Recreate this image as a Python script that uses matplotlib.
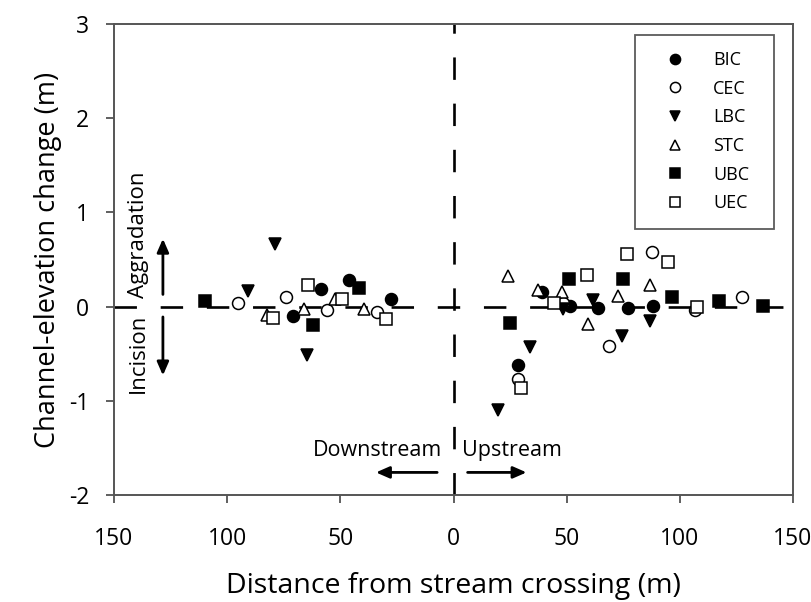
import matplotlib
matplotlib.use("Agg")
import matplotlib.pyplot as plt
from matplotlib.ticker import FuncFormatter

plt.rcParams['font.family'] = ['Open Sans', 'DejaVu Sans']
plt.rcParams['axes.unicode_minus'] = False

# Distance: negative = downstream, positive = upstream (m); elevation change (m)
bic_x = [-58.7, -71.1, -46.2, -27.6, 28.6, 39.0, 51.5, 64.0, 77.0, 88.3]
bic_y = [0.19, -0.10, 0.28, 0.08, -0.62, 0.16, 0.01, -0.01, -0.01, 0.01]

cec_x = [-95.1, -74.0, -56.0, -33.9, 28.6, 48.3, 68.8, 87.6, 106.7, 127.6]
cec_y = [0.04, 0.10, -0.04, -0.06, -0.77, 0.04, -0.42, 0.58, -0.04, 0.10]

lbc_x = [-78.9, -90.7, -64.9, 19.8, 33.8, 48.5, 61.8, 74.6, 86.8]
lbc_y = [0.66, 0.17, -0.51, -1.10, -0.43, -0.02, 0.07, -0.31, -0.15]

stc_x = [-82.3, -66.1, -52.4, -39.4, 24.2, 37.5, 47.8, 59.6, 72.8, 86.8]
stc_y = [-0.09, -0.02, 0.08, -0.02, 0.32, 0.18, 0.15, -0.18, 0.11, 0.23]

ubc_x = [-109.8, -62.0, -41.8, 25.0, 51.2, 74.7, 96.4, 117.5, 136.6]
ubc_y = [0.06, -0.20, 0.20, -0.17, 0.29, 0.29, 0.10, 0.06, 0.01]

uec_x = [-79.9, -64.2, -49.1, -30.0, 29.8, 44.4, 58.9, 76.8, 94.9, 107.5]
uec_y = [-0.12, 0.23, 0.08, -0.13, -0.86, 0.04, 0.34, 0.56, 0.47, 0.00]

x_ticks = [-150, -100, -50, 0, 50, 100, 150]
y_ticks = [-2, -1, 0, 1, 2, 3]

fig = plt.figure(figsize=(8.11, 6.02), dpi=100)
ax = fig.add_axes([0.1406, 0.1777, 0.8372, 0.7824])

# reference lines
dash_kw = dict(color='black', lw=1.9, dashes=(8.5, 9.0), zorder=1)
ax.axhline(0, **dash_kw)
ax.axvline(0, **dash_kw)

ms = 8.6
series = [
    ('BIC', bic_x, bic_y, 'o', 'black', ms),
    ('CEC', cec_x, cec_y, 'o', 'white', ms),
    ('LBC', lbc_x, lbc_y, 'v', 'black', ms + 0.4),
    ('STC', stc_x, stc_y, '^', 'white', ms + 0.2),
    ('UBC', ubc_x, ubc_y, 's', 'black', ms - 0.6),
    ('UEC', uec_x, uec_y, 's', 'white', ms - 0.6),
]
handles = []
for name, xs, ys, m, fc, s in series:
    h, = ax.plot(xs, ys, linestyle='none', marker=m, markersize=s,
                 markerfacecolor=fc, markeredgecolor='black',
                 markeredgewidth=1.1, label=name, zorder=3)
    handles.append(h)

ax.set_xlim(-150, 150)
ax.set_ylim(-2, 3)
ax.set_xticks(x_ticks)
ax.set_yticks(y_ticks)
ax.xaxis.set_major_formatter(FuncFormatter(lambda v, p: f"{abs(int(v))}"))
ax.tick_params(axis='both', direction='out', length=6, width=1.2,
               color='#444444', labelsize=16.5, top=False, right=False)
ax.tick_params(axis='x', pad=17)
ax.tick_params(axis='y', pad=12)
for sp in ax.spines.values():
    sp.set_color('#555555')
    sp.set_linewidth(1.4)

ax.set_xlabel('Distance from stream crossing (m)', fontsize=20.5, labelpad=15)
ax.set_ylabel('Channel-elevation change (m)', fontsize=19.5, labelpad=5)

leg = ax.legend(handles=handles, loc='upper left', mode='expand',
                bbox_to_anchor=(0.767, 0.5, 0.205, 0.477), fontsize=13,
                frameon=True, fancybox=False, edgecolor='#333333',
                borderpad=0.9, labelspacing=0.59, handlelength=2.67,
                handletextpad=0.78, borderaxespad=0, markerscale=0.85)
leg.get_frame().set_linewidth(1.3)
leg.set_zorder(5)

# annotations: aggradation / incision
ax.text(-139.3, 0.76, 'Aggradation', rotation=90, ha='center', va='center', fontsize=16)
ax.text(-139.3, -0.50, 'Incision', rotation=90, ha='center', va='center', fontsize=16)
arrow_kw = dict(arrowstyle='-|>,head_length=0.8,head_width=0.35', color='black', lw=2.0)
ax.annotate('', xy=(-128.4, 0.75), xytext=(-128.4, 0.10), arrowprops=arrow_kw)
ax.annotate('', xy=(-128.4, -0.76), xytext=(-128.4, -0.08), arrowprops=arrow_kw)

# downstream / upstream
ax.text(-33.4, -1.53, 'Downstream', ha='center', va='center', fontsize=15.5)
ax.text(25.9, -1.53, 'Upstream', ha='center', va='center', fontsize=15.5)
ax.annotate('', xy=(-35.5, -1.76), xytext=(-6.0, -1.76), arrowprops=arrow_kw)
ax.annotate('', xy=(33.5, -1.76), xytext=(5.0, -1.76), arrowprops=arrow_kw)

fig.savefig('out.png', dpi=100)
